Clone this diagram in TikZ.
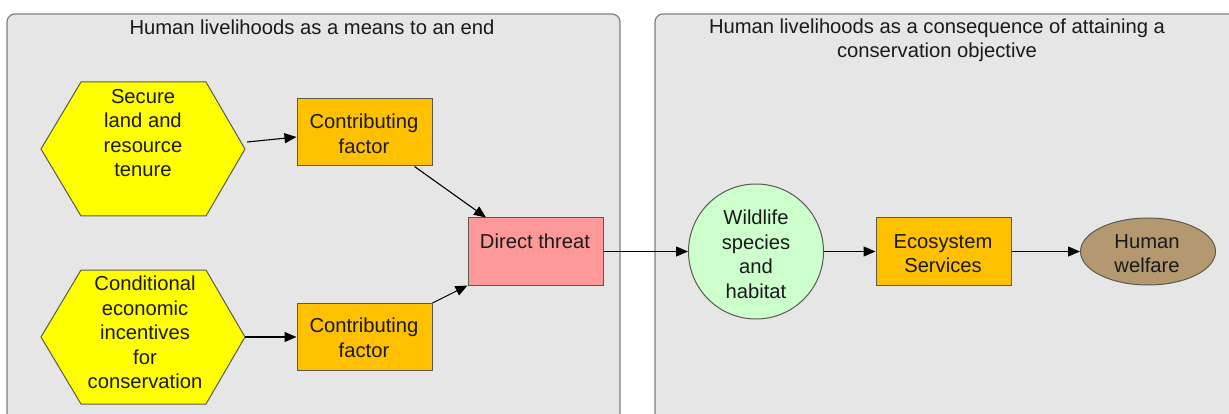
\documentclass[tikz,border=0pt]{standalone}
\usepackage{fontspec}
\setmainfont{Liberation Sans}
\usetikzlibrary{arrows.meta,shapes.geometric}
\definecolor{panelfill}{HTML}{E6E6E6}
\definecolor{panelline}{HTML}{7F7F7F}
\definecolor{nodeline}{HTML}{5A5A50}
\definecolor{hexyellow}{HTML}{FFFF00}
\definecolor{cforange}{HTML}{FFC000}
\definecolor{threatpink}{HTML}{FF9999}
\definecolor{wildgreen}{HTML}{CCFFCC}
\definecolor{welfarebrown}{HTML}{B39870}
\definecolor{txt}{HTML}{1A1A1A}
\begin{document}
\begin{tikzpicture}[x=1pt,y=-1pt,
  panel/.style={draw=panelline,fill=panelfill,line width=1.2pt,rounded corners=8pt},
  box/.style={draw=nodeline,line width=1pt,inner sep=0pt,rectangle},
  ell/.style={draw=nodeline,line width=1pt,inner sep=0pt,ellipse},
  lbl/.style={text=txt,align=center,inner sep=0pt,font=\fontsize{20.2}{24.5}\selectfont},
  arr/.style={draw=black,line width=1.1pt,-{Triangle[length=12pt,width=10pt]}}]
\useasboundingbox (0,0) rectangle (1229,414);
\clip (0,0) rectangle (1229,414);
% panels
\draw[panel] (7,14) rectangle (620,440);
\draw[panel] (655,14) rectangle (1245,440);
\node[lbl] (titleL) at (312,27) {Human livelihoods as a means to an end};
\node[lbl] (titleR) at (937,40.5) {Human livelihoods as a consequence of attaining a\\conservation objective};
% hexagons
\draw[draw=nodeline,fill=hexyellow,line width=1pt] (41,149) -- (81,82) -- (206,82) -- (245,149) -- (206,216) -- (81,216) -- cycle;
\node[inner sep=0pt,minimum width=204pt,minimum height=134pt] (hexA) at (143,149) {};
\draw[draw=nodeline,fill=hexyellow,line width=1pt] (41,337) -- (81,270) -- (206,270) -- (245,337) -- (206,404) -- (81,404) -- cycle;
\node[inner sep=0pt,minimum width=204pt,minimum height=134pt] (hexB) at (143,337) {};
\node[lbl] (hexAt) at (143,133) {Secure\\land and\\resource\\tenure};
\node[lbl] (hexBt) at (145,332.5) {Conditional\\economic\\incentives\\for\\conservation};
% boxes
\node[box,fill=cforange,minimum width=135pt,minimum height=67pt] (cf1) at (364.5,132.5) {};
\node[lbl] at (364,134) {Contributing\\factor};
\node[box,fill=cforange,minimum width=135pt,minimum height=67pt] (cf2) at (364.5,337) {};
\node[lbl] at (364,338) {Contributing\\factor};
\node[box,fill=threatpink,minimum width=135pt,minimum height=67pt] (dt) at (535.5,251.5) {};
\node[lbl] at (535,241) {Direct threat};
\node[ell,fill=wildgreen,minimum width=135pt,minimum height=135pt] (wl) at (756,251.5) {};
\node[lbl] at (756,254.5) {Wildlife\\species\\and\\habitat};
\node[box,fill=cforange,minimum width=135pt,minimum height=67pt] (es) at (943.5,251.5) {};
\node[lbl] at (943,253.5) {Ecosystem\\Services};
\node[ell,fill=welfarebrown,minimum width=135pt,minimum height=67pt] (hw) at (1148,251.5) {};
\node[lbl] at (1147,253.5) {Human\\welfare};
% connectors
\draw[arr] ([yshift=7pt,xshift=2pt]hexA.east) -- ([yshift=-4.5pt]cf1.west);
\draw[arr] (hexB.east) -- (cf2.west);
\draw[arr] ([xshift=50pt]cf1.south) -- ([xshift=-49.5pt]dt.north);
\draw[arr] (cf2.north east) -- (dt.south west);
\draw[arr] (dt.east) -- (wl.west);
\draw[arr] (wl.east) -- (es.west);
\draw[arr] (es.east) -- (hw.west);
\end{tikzpicture}
\end{document}
